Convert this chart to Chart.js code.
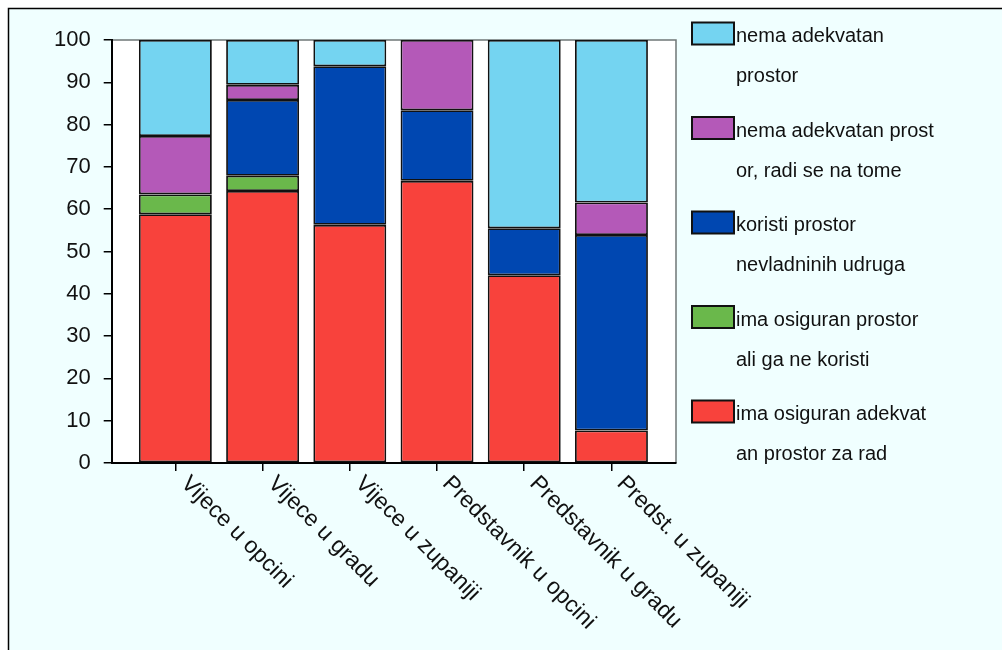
<!DOCTYPE html>
<html>
<head>
<meta charset="utf-8">
<script src="https://cdn.jsdelivr.net/npm/chart.js@4/dist/chart.umd.min.js"></script>
<style>
html, body { margin: 0; padding: 0; background: #fff; }
#wrap { width: 1002px; height: 650px; }
</style>
</head>
<body>
<div id="wrap"><canvas id="StackChart" width="1002" height="650"></canvas></div>
<script>
var categories = ["Vijece u opcini", "Vijece u gradu", "Vijece u zupaniji", "Predstavnik u opcini", "Predstavnik u gradu", "Predst. u zupaniji"];

// stacked from the bottom up, percentages
var imaAdekvatan  = [58.8, 64.3, 56.3, 66.7, 44.4, 7.7];
var imaNeKoristi  = [4.7, 3.6, 0, 0, 0, 0];
var koristiUdruga = [0, 17.9, 37.5, 16.7, 11.1, 46.2];
var radiSeNaTome  = [13.8, 3.6, 0, 16.6, 0, 7.7];
var nemaProstor   = [22.7, 10.6, 6.2, 0, 44.5, 38.4];

var yTicks = [0, 10, 20, 30, 40, 50, 60, 70, 80, 90, 100];

// legend text, broken the way the original breaks it
var legendLines = [
    ["ima osiguran adekvat", "an prostor za rad"],
    ["ima osiguran prostor", "ali ga ne koristi"],
    ["koristi prostor", "nevladninih udruga"],
    ["nema adekvatan prost", "or, radi se na tome"],
    ["nema adekvatan", "prostor"]
];

var seriesValues = [imaAdekvatan, imaNeKoristi, koristiUdruga, radiSeNaTome, nemaProstor];
var seriesColors = ["#F8423C", "#6AB84B", "#0047B1", "#B459B8", "#74D4F1"];

var FONT = "'Liberation Sans', Arial, Helvetica, sans-serif";

function toPoints(values){
    var pts = [];
    for(var i = 0; i < values.length; i++){
        pts.push({x: i, y: values[i]});
    }
    return pts;
}

var datasets = [];
for(var s = 0; s < seriesValues.length; s++){
    datasets.push({
        label: legendLines[s].join(""),
        data: toPoints(seriesValues[s]),
        backgroundColor: seriesColors[s],
        borderColor: "#111",
        borderWidth: 1.8,
        borderSkipped: false,
        categoryPercentage: 1,
        barPercentage: 0.836
    });
}

var frame = {
    id: "frame",
    beforeDraw: function(chart){
        var ctx = chart.ctx, a = chart.chartArea;
        ctx.save();
        ctx.fillStyle = "#fff";
        ctx.fillRect(0, 0, chart.width, chart.height);
        ctx.fillStyle = "#F0FFFF";
        ctx.fillRect(8, 8, chart.width, chart.height);
        ctx.strokeStyle = "#000";
        ctx.lineWidth = 1.5;
        ctx.beginPath();
        ctx.moveTo(8.5, chart.height + 2);
        ctx.lineTo(8.5, 8.5);
        ctx.lineTo(chart.width + 2, 8.5);
        ctx.stroke();
        ctx.fillStyle = "#fff";
        ctx.fillRect(a.left, a.top, a.right - a.left, a.bottom - a.top);
        ctx.strokeStyle = "#6f7777";
        ctx.lineWidth = 1.5;
        ctx.beginPath();
        ctx.moveTo(a.left, a.top);
        ctx.lineTo(a.right, a.top);
        ctx.lineTo(a.right, a.bottom);
        ctx.stroke();
        ctx.restore();
    },
    afterDraw: function(chart){
        var ctx = chart.ctx;
        var xs = chart.scales.x;
        var bottom = chart.chartArea.bottom;
        ctx.save();

        // rotated category labels, reading down to the right
        ctx.fillStyle = "#111";
        ctx.font = "23px " + FONT;
        ctx.textAlign = "left";
        ctx.textBaseline = "middle";
        for(var i = 0; i < categories.length; i++){
            ctx.save();
            ctx.translate(xs.getPixelForValue(i) + 9, bottom + 17);
            ctx.rotate(Math.PI / 4);
            ctx.fillText(categories[i], 0, 0);
            ctx.restore();
        }

        // legend, top item is the last series
        ctx.font = "20px " + FONT;
        ctx.textBaseline = "alphabetic";
        var n = chart.data.datasets.length;
        for(var k = 0; k < n; k++){
            var ds = chart.data.datasets[n - 1 - k];
            var lines = legendLines[n - 1 - k];
            var top = 22.5 + k * 94.5;
            ctx.fillStyle = ds.backgroundColor;
            ctx.fillRect(692, top, 42, 22);
            ctx.strokeStyle = "#111";
            ctx.lineWidth = 2;
            ctx.strokeRect(692, top, 42, 22);
            ctx.fillStyle = "#111";
            for(var l = 0; l < lines.length; l++){
                ctx.fillText(lines[l], 736, top + 19.5 + l * 40);
            }
        }
        ctx.restore();
    }
};

var stackChart = new Chart(document.getElementById("StackChart").getContext("2d"), {
    type: "bar",
    data: { datasets: datasets },
    options: {
        responsive: false,
        animation: false,
        layout: { padding: { left: 41, right: 326, top: 40, bottom: 179 } },
        plugins: {
            legend: { display: false },
            tooltip: { enabled: false }
        },
        scales: {
            x: {
                type: "linear",
                stacked: true,
                offset: false,
                min: -0.73,
                max: 5.74,
                afterBuildTicks: function(scale){
                    scale.ticks = categories.map(function(c, i){ return {value: i}; });
                },
                ticks: { display: false },
                grid: { offset: false, drawOnChartArea: false, tickLength: 8, color: "#000", lineWidth: 1.5 },
                border: { color: "#000", width: 2 }
            },
            y: {
                stacked: true,
                min: 0,
                max: 100,
                afterBuildTicks: function(scale){
                    scale.ticks = yTicks.map(function(v){ return {value: v}; });
                },
                ticks: { color: "#111", padding: 13, font: { size: 22, family: FONT } },
                grid: { drawOnChartArea: false, tickLength: 8, color: "#000", lineWidth: 1.5 },
                border: { color: "#000", width: 2 }
            }
        }
    },
    plugins: [frame]
});
</script>
</body>
</html>
